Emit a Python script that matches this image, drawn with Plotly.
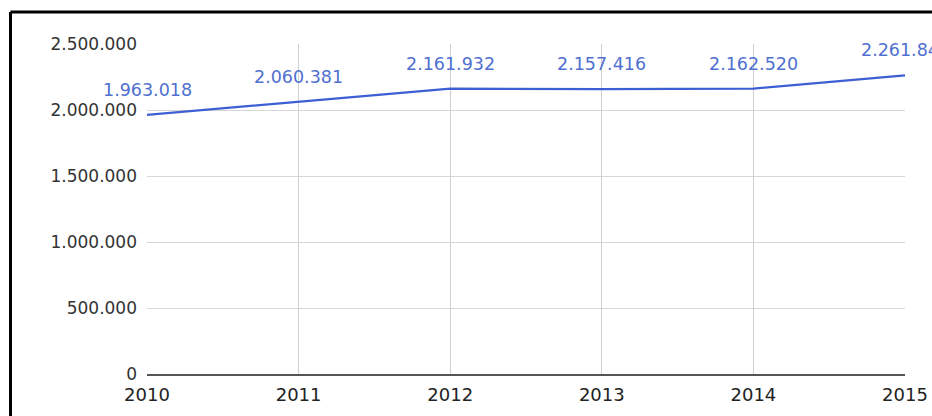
import plotly.graph_objects as go

# Graduates per year
years = [2010, 2011, 2012, 2013, 2014, 2015]
graduates = [1963018, 2060381, 2161932, 2157416, 2162520, 2261846]
y_ticks = [0, 500000, 1000000, 1500000, 2000000, 2500000]

W, H = 932, 416
M_L, M_R, M_T, M_B = 147, 27, 44, 42
PLOT_W = W - M_L - M_R
PLOT_H = H - M_T - M_B


def px_x(px):
    return (px - M_L) / PLOT_W


def px_y(py):
    return 1 - (py - M_T) / PLOT_H


def fmt(v):
    return f"{v:,}".replace(",", ".")


LINE_BLUE = "#3d5fd3"
LABEL_BLUE = "#4f70cf"
FONT = "DejaVu Sans"

fig = go.Figure()
fig.add_trace(go.Scatter(
    x=years, y=graduates, mode="lines",
    line=dict(color=LINE_BLUE, width=2.2),
    hoverinfo="skip", showlegend=False,
))

for yr, val in zip(years, graduates):
    fig.add_annotation(
        x=yr, y=val, text=fmt(val), showarrow=False,
        xanchor="center", yanchor="middle", yshift=25,
        font=dict(family=FONT, size=17.5, color=LABEL_BLUE),
    )

# black frame around the chart block
frame = dict(color="black", width=3)
fig.add_shape(type="line", xref="paper", yref="paper",
              x0=px_x(10.5), x1=px_x(W + 5), y0=px_y(12), y1=px_y(12), line=frame)
fig.add_shape(type="line", xref="paper", yref="paper",
              x0=px_x(10.5), x1=px_x(10.5), y0=px_y(12), y1=px_y(H + 5), line=frame)

fig.update_layout(
    width=W, height=H, autosize=False,
    margin=dict(l=M_L, r=M_R, t=M_T, b=M_B, pad=0, autoexpand=False),
    paper_bgcolor="white", plot_bgcolor="white",
    separators=",.",
    font=dict(family=FONT, color="#333333"),
    xaxis=dict(
        range=[2010, 2015], tickvals=years, ticktext=[str(y) for y in years],
        showgrid=True, gridcolor="#cfcfcf", gridwidth=1,
        showline=True, linecolor="#555555", linewidth=2,
        zeroline=False, ticks="", ticklabelstandoff=3, automargin=False,
        tickfont=dict(family=FONT, size=18, color="#222222"),
        fixedrange=True,
    ),
    yaxis=dict(
        range=[0, 2500000], tickvals=y_ticks, ticktext=[fmt(v) for v in y_ticks],
        showgrid=True, gridcolor="#d6d6d6", gridwidth=1,
        zeroline=False, showline=False, ticks="", ticklabelstandoff=9,
        automargin=False,
        tickfont=dict(family=FONT, size=17, color="#333333"),
        fixedrange=True,
    ),
)

fig.write_html("out.html", config={"displayModeBar": False})
